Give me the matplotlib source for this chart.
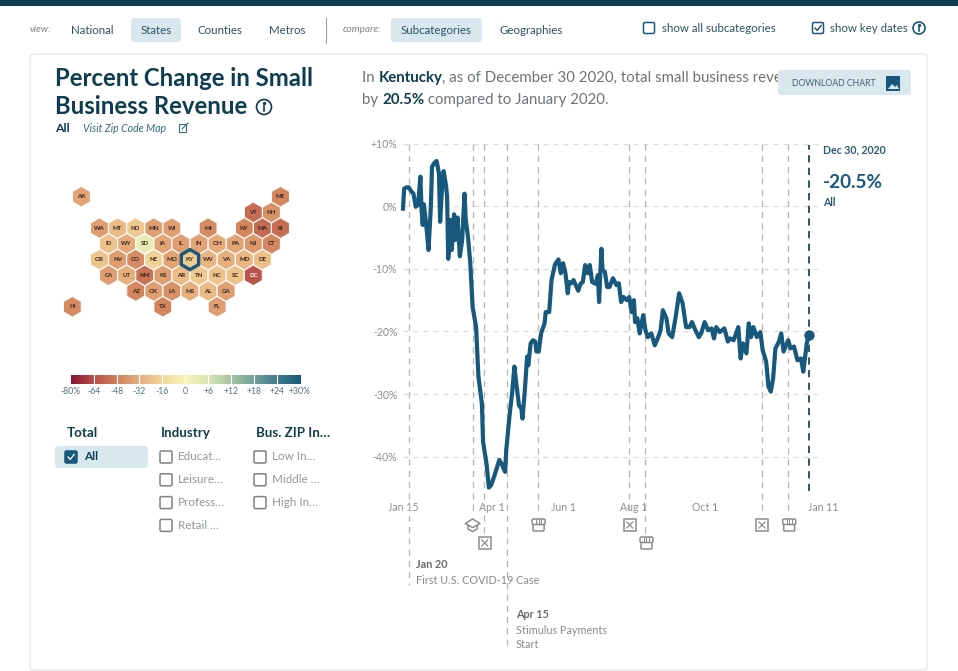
"""Percent change in small business revenue, Kentucky (dashboard screenshot)."""
import numpy as np
import matplotlib
matplotlib.use("Agg")
import matplotlib.pyplot as plt
from matplotlib.colors import LinearSegmentedColormap
from matplotlib.patches import Circle, FancyBboxPatch, Polygon, Rectangle, RegularPolygon

plt.rcParams["font.family"] = ["Lato", "DejaVu Sans"]

W, H = 958, 671

# days since Jan 15 2020
DAYS = [0, 1, 3, 5, 7, 9, 11, 13, 15, 16, 17, 18, 20, 22, 24, 25, 27, 29, 31, 32,
        34, 35, 37, 38, 39, 41, 42, 44, 45, 47, 49, 51, 53, 54, 56, 58, 60, 63, 65, 68,
        69, 72, 74, 76, 79, 83, 85, 88, 89, 92, 94, 96, 98, 100, 102, 103, 105, 107, 108, 110,
        112, 114, 115, 117, 119, 122, 123, 126, 128, 131, 134, 136, 138, 140, 142, 143, 145, 147, 151, 153,
        155, 157, 159, 161, 163, 166, 168, 169, 171, 172, 174, 176, 178, 181, 184, 186, 188, 190, 193, 195,
        197, 199, 200, 202, 204, 207, 209, 211, 214, 217, 220, 222, 224, 227, 229, 232, 235, 238, 241, 244,
        247, 249, 252, 255, 257, 260, 263, 266, 268, 270, 273, 277, 280, 282, 285, 289, 291, 293, 296, 298,
        300, 302, 305, 308, 310, 313, 315, 317, 319, 321, 324, 326, 328, 332, 334, 337, 340, 343, 345, 348,
        350]
REVENUE = [-0.4, 2.8, 3.0, 3.0, 2.4, 2.0, -0.1, 0.2, 4.7, -0.6, -3.0, 0.3, -3.0, -7.0, -0.1, 6.3, 6.9, 7.2, 5.2, -2.5,
           4.1, 5.6, 3.4, 1.5, -8.4, -2.2, -7.0, -1.3, -5.4, -1.8, -8.0, -5.4, 2.0, -2.0, -4.9, -9.1, -16.1, -19.3, -27.2, -31.5,
           -37.6, -41.1, -44.9, -44.5, -42.9, -40.5, -41.1, -42.4, -38.9, -33.1, -29.9, -25.6, -28.8, -31.8, -32.3, -33.9, -29.4, -24.0, -25.4, -21.9,
           -21.4, -21.6, -23.2, -23.2, -20.3, -18.7, -16.9, -16.9, -11.8, -9.3, -8.5, -10.7, -9.1, -10.7, -13.9, -12.1, -12.3, -11.8, -13.5, -12.4,
           -12.1, -9.4, -10.7, -9.4, -12.1, -12.4, -11.0, -15.3, -6.8, -10.2, -10.5, -12.9, -12.9, -11.5, -12.6, -12.3, -15.3, -14.5, -15.0, -14.5,
           -16.9, -15.0, -18.5, -17.9, -20.3, -17.4, -19.8, -20.9, -20.3, -22.2, -20.9, -19.8, -16.6, -17.9, -20.3, -20.9, -17.7, -13.9, -15.5, -19.3,
           -19.3, -18.5, -19.8, -20.9, -20.3, -18.5, -19.8, -19.5, -21.1, -19.3, -20.1, -19.5, -21.6, -21.1, -21.4, -19.3, -24.3, -21.9, -23.5, -18.7,
           -20.9, -19.3, -20.9, -20.1, -23.0, -24.8, -28.8, -29.6, -27.5, -22.7, -21.6, -20.3, -23.2, -21.4, -22.7, -22.4, -24.6, -24.3, -26.4, -21.9,
           -20.5]

Y_TICKS = [10, 0, -10, -20, -30, -40]
Y_LABELS = ["+10%", "0%", "-10%", "-20%", "-30%", "-40%"]
X_TICKS = [0, 77, 138, 199, 260, 362]
X_LABELS = ["Jan 15", "Apr 1", "Jun 1", "Aug 1", "Oct 1", "Jan 11"]
KEY_DAYS = [5, 60, 70, 90, 116, 195, 209, 309, 332]
KEY_ICONS = [None, "cap", "x", None, "store", "x", "store", "x", "store"]
LAST_DAY = 350

STATES = ["AK", "ME", "VT", "NH", "WA", "MT", "ND", "MN", "WI", "MI", "NY", "MA", "RI",
          "ID", "WY", "SD", "IA", "IL", "IN", "OH", "PA", "NJ", "CT",
          "OR", "NV", "CO", "NE", "MO", "KY", "WV", "VA", "MD", "DE",
          "CA", "UT", "NM", "KS", "AR", "TN", "NC", "SC", "DC",
          "AZ", "OK", "LA", "MS", "AL", "GA", "HI", "TX", "FL"]
STATE_VALUES = [-36, -46, -54, -42, -38, -28, -22, -38, -38, -44, -46, -55, -54,
                -24, -34, 3, -36, -38, -36, -34, -36, -40, -46,
                -24, -38, -44, -18, -36, -20.5, -30, -32, -30, -26,
                -38, -32, -52, -38, -28, -22, -24, -24, -62,
                -46, -38, -42, -32, -28, -38, -44, -46, -38]

SCALE_TICKS = [-80, -64, -48, -32, -16, 0, 6, 12, 18, 24, 30]
SCALE_LABELS = ["-80%", "-64", "-48", "-32", "-16", "0", "+6", "+12", "+18", "+24", "+30%"]

TOTAL_ITEMS = ["All"]
INDUSTRY_ITEMS = ["Educat…", "Leisure…", "Profess…", "Retail …"]
ZIP_ITEMS = ["Low In…", "Middle …", "High In…"]

# tile grid: (half column, row)
HEX_GRID = {
    "AK": (1, 0), "ME": (23, 0), "VT": (20, 1), "NH": (22, 1),
    "WA": (3, 2), "MT": (5, 2), "ND": (7, 2), "MN": (9, 2), "WI": (11, 2), "MI": (15, 2),
    "NY": (19, 2), "MA": (21, 2), "RI": (23, 2),
    "ID": (4, 3), "WY": (6, 3), "SD": (8, 3), "IA": (10, 3), "IL": (12, 3), "IN": (14, 3),
    "OH": (16, 3), "PA": (18, 3), "NJ": (20, 3), "CT": (22, 3),
    "OR": (3, 4), "NV": (5, 4), "CO": (7, 4), "NE": (9, 4), "MO": (11, 4), "KY": (13, 4),
    "WV": (15, 4), "VA": (17, 4), "MD": (19, 4), "DE": (21, 4),
    "CA": (4, 5), "UT": (6, 5), "NM": (8, 5), "KS": (10, 5), "AR": (12, 5), "TN": (14, 5),
    "NC": (16, 5), "SC": (18, 5), "DC": (20, 5),
    "AZ": (7, 6), "OK": (9, 6), "LA": (11, 6), "MS": (13, 6), "AL": (15, 6), "GA": (17, 6),
    "HI": (0, 7), "TX": (10, 7), "FL": (16, 7),
}

NAVY = "#0d3d50"
BLUE = "#17587c"
PALE = "#d9e8ef"
GREY_TXT = "#6d7478"
GREY = "#8c8c8c"
SCALE_COLORS = ["#8a1433", "#b84f4a", "#d08059", "#e8b07f", "#f3d79a", "#faf3b5",
                "#d8e4b0", "#a3c4a2", "#6f9f98", "#3f7a8c", "#17587c"]


def px_axes(fig, x0, y0, x1, y1):
    return fig.add_axes([x0 / W, 1 - y1 / H, (x1 - x0) / W, (y1 - y0) / H])


def scale_color(cmap, v):
    return cmap(np.interp(v, SCALE_TICKS, np.linspace(0, 1, len(SCALE_TICKS))))


def label(ax, x, y, s, size=9.5, color=GREY_TXT, weight="normal", ha="left", style="normal", zorder=3):
    return ax.text(x, y, s, fontsize=size, color=color, weight=weight, ha=ha, va="center",
                   style=style, zorder=zorder)


def runs(fig, ax, x, y, parts, size):
    # text with bold words inside, placed piece by piece
    r = fig.canvas.get_renderer()
    for s, bold in parts:
        t = label(ax, x, y, s, size=size, color=NAVY if bold else GREY_TXT,
                  weight="bold" if bold else "normal")
        x += t.get_window_extent(r).width


def round_box(ax, x0, y0, x1, y1, color, edge="none", rad=3, zorder=1, lw=0.8):
    ax.add_patch(FancyBboxPatch((x0 + rad, y0 + rad), x1 - x0 - 2 * rad, y1 - y0 - 2 * rad,
                                boxstyle=f"round,pad={rad},rounding_size={rad}",
                                fc=color, ec=edge, lw=lw, zorder=zorder))


def checkbox(ax, x, y, checked=False, filled=False, color="#7b8288", size=11):
    s = size / 2
    face = BLUE if filled else "white"
    round_box(ax, x - s, y - s, x + s, y + s, face, edge=BLUE if filled else color, rad=1.5, zorder=4, lw=1.1)
    if checked:
        c = "white" if filled else NAVY
        ax.plot([x - 3, x - 0.8, x + 3.2], [y, y + 2.4, y - 2.6], color=c, lw=0.9, zorder=5)


def info(ax, x, y, r=7, color=NAVY):
    ax.add_patch(Circle((x, y), r, fc="white", ec=color, lw=1.2, zorder=4))
    ax.plot([x, x], [y - 0.8, y + r * 0.5], color=color, lw=1.2, zorder=5)
    ax.plot([x], [y - r * 0.48], "o", color=color, ms=1.4, zorder=5)


def icon_x(ax, x, y):
    ax.add_patch(Rectangle((x - 6, y - 6), 12, 12, fc="white", ec=GREY, lw=1.1, zorder=4))
    ax.plot([x - 3, x + 3], [y - 3, y + 3], color=GREY, lw=0.9, zorder=5)
    ax.plot([x - 3, x + 3], [y + 3, y - 3], color=GREY, lw=0.9, zorder=5)


def icon_store(ax, x, y):
    round_box(ax, x - 5.5, y - 2, x + 5.5, y + 6, "white", edge=GREY, rad=1, zorder=4, lw=1.1)
    round_box(ax, x - 6.5, y - 6, x + 6.5, y - 0.5, "white", edge=GREY, rad=1.5, zorder=5, lw=1.1)
    for dx in (-2.5, 0, 2.5):
        ax.plot([x + dx, x + dx], [y - 6, y - 1], color=GREY, lw=0.8, zorder=6)


def icon_cap(ax, x, y):
    ax.add_patch(Polygon([(x - 7.5, y - 1.5), (x, y - 6), (x + 7.5, y - 1.5), (x, y + 2.5)],
                         fc="white", ec=GREY, lw=1.1, zorder=5))
    ax.plot([x - 4.5, x - 4.5, x, x + 4.5, x + 4.5], [y, y + 4, y + 6.5, y + 4, y],
            color=GREY, lw=1.1, zorder=4)


def draw_page(fig, bg):
    bg.add_patch(Rectangle((0, 0), W, 6, fc=NAVY, ec="none"))
    label(bg, 30, 30, "view:", size=7.2, style="italic", color="#7d8488")
    for x, s in zip((92, 156, 220, 287), ("National", "States", "Counties", "Metros")):
        if s == "States":
            round_box(bg, 131, 18, 181, 42, PALE)
        label(bg, x, 30, s, size=8.3, color="#2c5264", ha="center")
    bg.plot([326, 326], [18, 43], color="#9aa0a3", lw=0.8)
    label(bg, 343, 30, "compare:", size=7.2, style="italic", color="#7d8488")
    round_box(bg, 391, 18, 482, 42, PALE)
    label(bg, 436.5, 30, "Subcategories", size=8.3, color="#2c5264", ha="center")
    label(bg, 531, 30, "Geographies", size=8.3, color="#2c5264", ha="center")
    checkbox(bg, 649, 28, color=BLUE)
    label(bg, 662, 28, "show all subcategories", size=8.3, color="#2c5264")
    checkbox(bg, 818, 28, checked=True, color=BLUE)
    label(bg, 830, 28, "show key dates", size=8.3, color="#2c5264")
    info(bg, 919, 28, r=6, color=BLUE)

    # card, with a soft edge
    round_box(bg, 29, 53, 928, 671, "#efefef", rad=4, zorder=0.5)
    round_box(bg, 31, 55, 926, 669, "white", rad=3, zorder=0.6)

    label(bg, 55, 79, "Percent Change in Small", size=17.2, color=NAVY, weight="bold")
    label(bg, 55, 106, "Business Revenue", size=17.2, color=NAVY, weight="bold")
    info(bg, 264, 107, r=7.5)
    label(bg, 55, 128, "All", size=8.8, color=NAVY, weight="bold")
    label(bg, 83, 128, "Visit Zip Code Map", size=7.6, color="#2f6a86", style="italic")
    bg.add_patch(Rectangle((179, 124), 7.5, 8, fc="white", ec="#2f6a86", lw=0.8, zorder=4))
    bg.plot([182, 188], [129, 123], color="#2f6a86", lw=0.8, zorder=5)

    # the download button cuts the first line off in the screenshot
    runs(fig, bg, 362, 78, [("In ", False), ("Kentucky", True),
                            (", as of December 30 2020, total small business reve", False)], 10.8)
    runs(fig, bg, 362, 100, [("by ", False), ("20.5%", True), (" compared to January 2020.", False)], 10.8)
    round_box(bg, 778, 70, 911, 95, PALE, zorder=6)
    bg.text(834, 83, "DOWNLOAD CHART", fontsize=6.3, color="#3d6478", ha="center", va="center", zorder=7)
    bg.add_patch(Rectangle((886, 76), 14.5, 15, fc=BLUE, ec="none", zorder=7))
    bg.add_patch(Polygon([(888, 89), (892, 84), (895, 87), (897, 85), (899, 89)], fc=PALE, ec="none", zorder=8))


def draw_hexmap(bg):
    cmap = LinearSegmentedColormap.from_list("rev", SCALE_COLORS)
    for st, v in zip(STATES, STATE_VALUES):
        col, row = HEX_GRID[st]
        x = 50 + (67 + 27.15 * col) / 3
        y = 170 + (80 + 47.2 * row) / 3
        bg.add_patch(RegularPolygon((x, y), 6, radius=10.3, orientation=0,
                                    fc=scale_color(cmap, v), ec="white", lw=0.7, zorder=2))
        if st == "KY":
            bg.add_patch(RegularPolygon((x, y), 6, radius=10, orientation=0,
                                        fc="none", ec=BLUE, lw=2.4, zorder=3))
        bg.text(x, y, st, fontsize=4.4, weight="bold", ha="center", va="center", zorder=4,
                color="white" if st == "DC" else "#33231c")
    return cmap


def draw_scale(fig, bg, cmap):
    x0, x1 = 70.7, 300
    cax = px_axes(fig, x0, 375, x1, 384)
    cax.imshow(np.linspace(0, 1, 256)[None, :], cmap=cmap, aspect="auto", extent=(0, 10, 0, 1))
    cax.axis("off")
    for i in range(1, 10):
        cax.axvline(i, color="white", lw=0.8)
    for i, s in enumerate(SCALE_LABELS):
        label(bg, x0 + i * (x1 - x0) / 10, 392, s, size=6.2, color="#54707f", ha="center")


def draw_filters(bg):
    label(bg, 67, 433, "Total", size=9.6, color=NAVY, weight="bold")
    label(bg, 161, 433, "Industry", size=9.6, color=NAVY, weight="bold")
    label(bg, 256, 433, "Bus. ZIP In…", size=9.6, color=NAVY, weight="bold")
    round_box(bg, 55, 446, 148, 468, PALE, rad=4)
    for i, s in enumerate(TOTAL_ITEMS):
        checkbox(bg, 71, 457 + i * 23, checked=True, filled=True, size=12)
        label(bg, 84, 457 + i * 23, s, size=8.4, color=NAVY, weight="bold")
    for x, items in ((166, INDUSTRY_ITEMS), (260, ZIP_ITEMS)):
        for i, s in enumerate(items):
            checkbox(bg, x, 457 + i * 22.8, size=12)
            label(bg, x + 12, 457 + i * 22.8, s, size=8.4, color="#8f969b")


def draw_chart(fig, bg):
    top, bottom = 143.5, 491
    x0, x1 = 403, 823
    ax = px_axes(fig, x0, top, x1, bottom)
    ax.patch.set_alpha(0)
    ax.set_zorder(5)
    ax.set_xlim(0, 362)
    ax.set_ylim(-(bottom - 206) / 6.27, (206 - top) / 6.27)
    for s in ax.spines.values():
        s.set_visible(False)
    ax.set_xticks(X_TICKS, X_LABELS)
    ax.set_yticks(Y_TICKS, Y_LABELS)
    ax.tick_params(length=0, labelsize=7.6, labelcolor="#8c9093")
    ax.tick_params(axis="x", pad=8)
    ax.tick_params(axis="y", pad=4)
    ax.grid(axis="y", color="#dcdcdc", lw=0.9, ls=(0, (4, 4)))
    ax.set_axisbelow(True)

    # key date lines run below the axes, down to their icon or note
    ends = {5: 585, 60: 515, 70: 533, 90: 648, 116: 515, 195: 515, 209: 533, 309: 515, 332: 515}
    frac = lambda py: (bottom - py) / (bottom - top)
    tr = ax.get_xaxis_transform()
    for d, kind in zip(KEY_DAYS, KEY_ICONS):
        ax.plot([d, d], [1, frac(ends[d])], transform=tr, clip_on=False, color="#b4b4b4", lw=0.9,
                ls=(0, (5, 4)), zorder=1)
        px = x0 + d * (x1 - x0) / 362
        if kind == "cap":
            icon_cap(bg, px, ends[d] + 10)
        elif kind == "x":
            icon_x(bg, px + 0.5, ends[d] + 10)
        elif kind == "store":
            icon_store(bg, px + 1, ends[d] + 10)

    ax.plot(DAYS, REVENUE, color=BLUE, lw=3.0, solid_joinstyle="round", clip_on=False, zorder=3)
    ax.plot([LAST_DAY, LAST_DAY], [frac(491), frac(145)], transform=tr, color="#23475a", lw=1.3,
            ls=(0, (4, 3)), zorder=2, clip_on=False)
    ax.plot(DAYS[-1], REVENUE[-1], "o", color=BLUE, ms=7.5, mew=0, zorder=4, clip_on=False)

    label(bg, 416, 565, "Jan 20", size=7.8, color="#6b6b6b", weight="bold")
    label(bg, 416, 580, "First U.S. COVID-19 Case", size=7.8, color="#8a8a8a")
    label(bg, 516, 615, "Apr 15", size=7.8, color="#6b6b6b", weight="bold")
    label(bg, 516, 630, "Stimulus Payments", size=7.8, color="#8a8a8a")
    label(bg, 516, 645, "Start", size=7.8, color="#8a8a8a")

    label(bg, 823, 150, "Dec 30, 2020", size=7.6, color="#2c5a72", weight="bold")
    label(bg, 823, 183, "-20.5%", size=13.6, color=BLUE, weight="bold")
    label(bg, 823, 202, "All", size=7.6, color="#2c5a72", weight="bold")


def main():
    fig = plt.figure(figsize=(W / 100, H / 100), dpi=100, facecolor="white")
    bg = fig.add_axes([0, 0, 1, 1])
    bg.set_xlim(0, W)
    bg.set_ylim(H, 0)
    bg.axis("off")

    draw_page(fig, bg)
    cmap = draw_hexmap(bg)
    draw_scale(fig, bg, cmap)
    draw_filters(bg)
    draw_chart(fig, bg)

    fig.savefig("out.png", dpi=100)


if __name__ == "__main__":
    main()
